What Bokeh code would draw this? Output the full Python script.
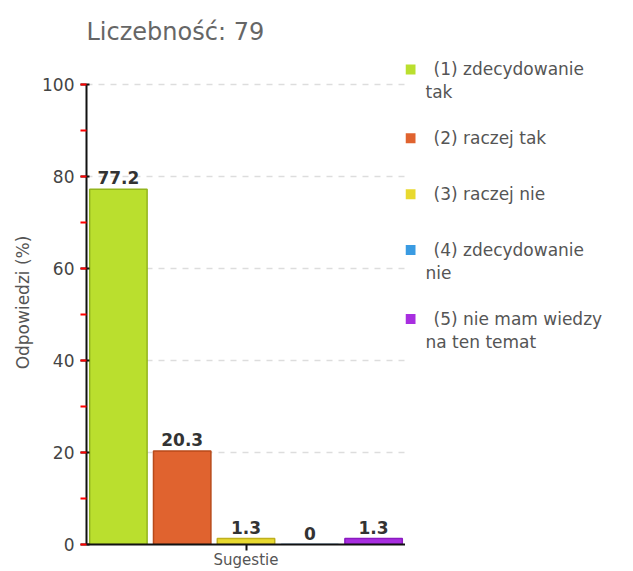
from bokeh.plotting import figure
from bokeh.layouts import row
from bokeh.models import FactorRange, Range1d, ColumnDataSource, SingleIntervalTicker
from bokeh.transform import dodge
from bokeh.core.properties import value
from bokeh.embed import file_html
from bokeh.resources import INLINE

category = ["Sugestie"]
legend_lines = [["(1) zdecydowanie", "tak"], ["(2) raczej tak"], ["(3) raczej nie"],
                ["(4) zdecydowanie", "nie"], ["(5) nie mam wiedzy", "na ten temat"]]
values = [77.2, 20.3, 1.3, 0, 1.3]
value_text = ["77.2", "20.3", "1.3", "0", "1.3"]
fills = ["#BADF2E", "#E0632F", "#E8D92F", "#3A9BE2", "#A82EE0"]
lines = ["#93B51D", "#B84A1A", "#BFB01E", "#2A80C8", "#8A1AC0"]
offsets = [-0.4, -0.2, 0.0, 0.2, 0.4]
title_text = "Liczebność: 79"
y_title = "Odpowiedzi (%)"
y_max = 100

FONT = "DejaVu Sans"
W, H = 632, 571
PLOT_W = 405                 # main figure width (frame right edge)
LEFT, TOP, BOTTOM = 86, 60, 26
AXIS_TOP = 84                # pixel where 100 % sits
frame_bottom = H - BOTTOM
y_end = y_max * (frame_bottom - TOP) / (frame_bottom - AXIS_TOP)

p = figure(width=PLOT_W, height=H, x_range=FactorRange(factors=category, range_padding=0),
           y_range=Range1d(0, y_end), output_backend="svg", toolbar_location=None,
           min_border_left=LEFT, min_border_top=TOP, min_border_bottom=BOTTOM,
           min_border_right=0)
p.outline_line_color = None

for i in range(len(values)):
    src = ColumnDataSource(dict(cat=category, v=[values[i]], t=[value_text[i]]))
    p.vbar(x=dodge("cat", offsets[i], range=p.x_range), top="v", bottom=0, width=0.18,
           source=src, fill_color=fills[i], line_color=lines[i], line_width=1.5)
    p.text(x=dodge("cat", offsets[i], range=p.x_range), y="v", text="t", source=src,
           text_align="center", text_baseline="bottom", y_offset=-5,
           text_font=value(FONT), text_font_size="17px", text_font_style="bold",
           text_color="#333333")

# title
p.title.text = title_text
p.title.text_font = FONT
p.title.text_font_size = "24px"
p.title.text_font_style = "normal"
p.title.text_color = "#666666"
p.title.align = "left"
p.title.standoff = 30

# y axis
p.yaxis.ticker = SingleIntervalTicker(interval=20, num_minor_ticks=2)
p.yaxis.bounds = (0, y_max)
p.yaxis.axis_label = y_title
p.yaxis.axis_label_text_font = FONT
p.yaxis.axis_label_text_font_size = "17px"
p.yaxis.axis_label_text_font_style = "normal"
p.yaxis.axis_label_text_color = "#555555"
p.yaxis.axis_label_standoff = 6
p.yaxis.major_label_text_font = FONT
p.yaxis.major_label_text_font_size = "17px"
p.yaxis.major_label_text_color = "#444444"
p.yaxis.major_label_standoff = 6
p.yaxis.axis_line_color = "#111111"
p.yaxis.axis_line_width = 2
p.yaxis.major_tick_line_color = "#111111"
p.yaxis.major_tick_line_width = 2
p.yaxis.major_tick_in = 3
p.yaxis.major_tick_out = 6
p.yaxis.minor_tick_line_color = "red"
p.yaxis.minor_tick_line_width = 2
p.yaxis.minor_tick_in = 0
p.yaxis.minor_tick_out = 6

# x axis
p.xaxis.axis_line_color = "#111111"
p.xaxis.axis_line_width = 2
p.xaxis.major_tick_line_color = "#111111"
p.xaxis.major_tick_line_width = 2
p.xaxis.major_tick_in = 0
p.xaxis.major_tick_out = 6
p.xaxis.major_label_standoff = 0
p.xaxis.major_label_text_font = FONT
p.xaxis.major_label_text_font_size = "15px"
p.xaxis.major_label_text_color = "#555555"

# grid
p.xgrid.grid_line_color = None
p.ygrid.grid_line_color = "#DDDDDD"
p.ygrid.grid_line_dash = "6 6"
p.ygrid.grid_line_width = 1.5

# legend panel: ranges in page pixels (x right, y down)
lg = figure(width=W - PLOT_W, height=H, title=None,
            x_range=Range1d(PLOT_W, W), y_range=Range1d(frame_bottom, TOP),
            output_backend="svg", toolbar_location=None,
            min_border_left=0, min_border_right=0, min_border_top=TOP,
            min_border_bottom=BOTTOM)
lg.axis.visible = False
lg.grid.grid_line_color = None
lg.outline_line_color = None

y0, step, extra, lh = 69, 56, 13, 23
sq_y, t1_y, t1_t, t2_y, t2_t = [], [], [], [], []
y = y0
for ln in legend_lines:
    sq_y.append(y)
    t1_y.append(y)
    t1_t.append(ln[0])
    for k, more in enumerate(ln[1:]):
        t2_y.append(y + lh * (k + 1))
        t2_t.append(more)
    y += step + extra * (len(ln) - 1)

lg.scatter(x=[PLOT_W + 5] * len(sq_y), y=sq_y, marker="square", size=10, fill_color=fills,
           line_color=None)
lg.text(x=[PLOT_W + 28] * len(t1_y), y=t1_y, text=t1_t, text_baseline="middle",
        text_align="left", text_font=value(FONT), text_font_size="17px", text_color="#555555")
lg.text(x=[PLOT_W + 20] * len(t2_y), y=t2_y, text=t2_t, text_baseline="middle",
        text_align="left", text_font=value(FONT), text_font_size="17px", text_color="#555555")

layout = row(p, lg)
open("out.html", "w").write(file_html(layout, INLINE))
